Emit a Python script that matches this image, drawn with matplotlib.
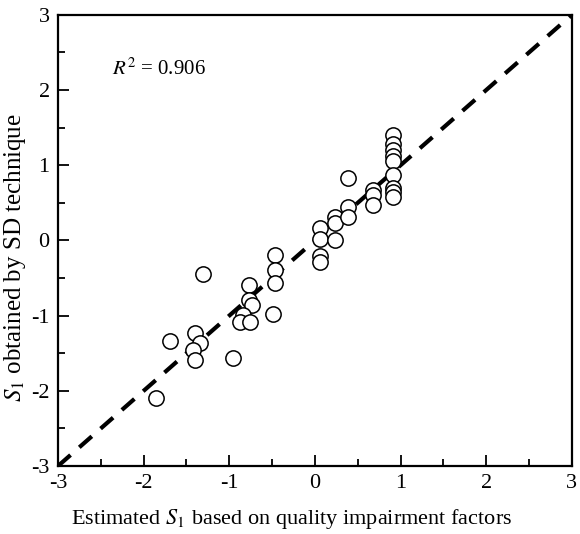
import matplotlib
matplotlib.use("Agg")
import matplotlib.pyplot as plt
from matplotlib.ticker import MultipleLocator

plt.rcParams['font.family'] = ['Liberation Serif', 'DejaVu Serif']
plt.rcParams['mathtext.fontset'] = 'stix'
plt.rcParams['axes.unicode_minus'] = False

# estimated S1 (x) vs S1 from SD technique (y)
estimated = [-1.86, -1.69, -1.31, -1.40, -1.34, -1.42, -1.40, -0.96,
             -0.77, -0.77, -0.74, -0.84, -0.88, -0.76, -0.49, -0.47, -0.47, -0.47,
             0.06, 0.06, 0.06, 0.06, 0.23, 0.23, 0.23, 0.39, 0.39, 0.39,
             0.68, 0.68, 0.68,
             0.91, 0.91, 0.91, 0.91, 0.91, 0.91, 0.91, 0.91, 0.91]
measured = [-2.10, -1.34, -0.45, -1.23, -1.36, -1.46, -1.59, -1.56,
            -0.59, -0.79, -0.86, -0.99, -1.08, -1.08, -0.98, -0.19, -0.39, -0.57,
            0.17, 0.02, -0.21, -0.29, 0.31, 0.23, 0.01, 0.45, 0.31, 0.83,
            0.67, 0.60, 0.47,
            1.40, 1.28, 1.20, 1.12, 1.05, 0.87, 0.70, 0.65, 0.58]
fit_line = [-3, 3]

fig = plt.figure(figsize=(5.8, 5.34), dpi=100)
ax = fig.add_axes([0.1, 0.1273, 0.886, 0.845])

ax.plot(fit_line, fit_line, color='black', linestyle=(0, (4, 2.8)), linewidth=3, zorder=1)
ax.plot(estimated, measured, linestyle='none', marker='o', markersize=11,
        markerfacecolor='white', markeredgecolor='black', markeredgewidth=1.1, zorder=2)

ax.set_xlim(-3, 3)
ax.set_ylim(-3, 3)
ax.xaxis.set_major_locator(MultipleLocator(1))
ax.yaxis.set_major_locator(MultipleLocator(1))
ax.xaxis.set_minor_locator(MultipleLocator(0.5))
ax.yaxis.set_minor_locator(MultipleLocator(0.5))
ax.tick_params(which='both', direction='in', top=False, right=False, width=1.3)
ax.tick_params(which='major', length=8, labelsize=16, pad=6)
ax.tick_params(which='minor', length=5)
for s in ax.spines.values():
    s.set_linewidth(1.6)

ax.set_xlabel(r'Estimated $S_1$ based on quality impairment factors', fontsize=16)
ax.set_ylabel(r'$S_1$ obtained by SD technique', fontsize=18)
ax.xaxis.set_label_coords(0.454, -0.09)
ax.yaxis.set_label_coords(-0.058, 0.461)
ax.text(-2.37, 2.2, r'$R^2$ = 0.906', fontsize=15)

fig.savefig('out.png', dpi=100)
